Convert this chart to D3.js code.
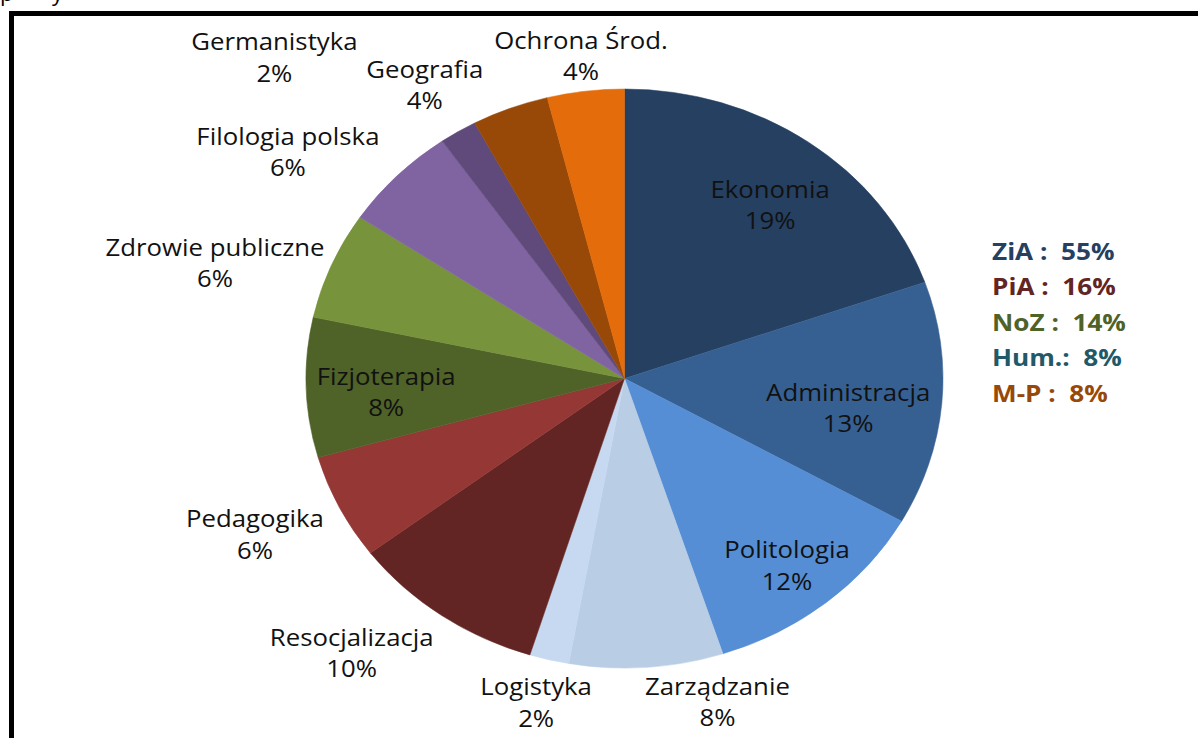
<!DOCTYPE html>
<html>
<head>
<meta charset="utf-8">
<script src="https://cdn.jsdelivr.net/npm/d3@7"></script>
<style>
  html, body { margin: 0; padding: 0; background: #fff; }
  svg { display: block; }
</style>
</head>
<body>
<svg id="chart" width="1198" height="738"></svg>
<script>
// ---- data ----
const categories = ["Ekonomia", "Administracja", "Politologia", "Zarządzanie", "Logistyka",
  "Resocjalizacja", "Pedagogika", "Fizjoterapia", "Zdrowie publiczne", "Filologia polska",
  "Germanistyka", "Geografia", "Ochrona Środ."];
const values = [19.6, 13.6, 11.8, 7.8, 2.0, 9.9, 5.9, 7.8, 6.0, 5.9, 1.9, 3.9, 3.9];
const pctLabels = ["19%", "13%", "12%", "8%", "2%", "10%", "6%", "8%", "6%", "6%", "2%", "4%", "4%"];
const groupNames = ["ZiA :  55%", "PiA :  16%", "NoZ :  14%", "Hum.:  8%", "M-P :  8%"];

// ---- style / layout ----
const colors = ["#254061", "#376092", "#558ED5", "#B9CDE5", "#C6D9F1",
  "#632523", "#953735", "#4F6228", "#77933C", "#8064A2",
  "#604A7B", "#984807", "#E46C0A"];
const groupColors = ["#254061", "#632523", "#4F6228", "#215968", "#984807"];
// label anchor: angle (deg, clockwise from north) and radius as a fraction of the pie radius
const labelAngle = [37.5, 98.5, 141.8, 165.4, 193.9, 222, 245, 266.2, 287.1, 306.4, 315.2, 328.2, 353];
const labelRadius = [0.751, 0.71, 0.825, 1.158, 1.155, 1.28, 1.28, 0.75, 1.345, 1.313, 1.56, 1.19, 1.12];

const cx = 624.5, cy = 378.5, rx = 318.5, ry = 289.5;
const stretch = rx / ry;  // the whole picture is stretched horizontally
const svg = d3.select("#chart");

// frame
svg.append("rect")
  .attr("x", 11.5).attr("y", 13.5)
  .attr("width", 1300).attr("height", 900)
  .attr("fill", "none").attr("stroke", "#000").attr("stroke-width", 5);

// cut-off title descenders at the very top (the reference shows only these fragments)
svg.append("text").attr("x", 0).attr("y", 1)
  .attr("font-family", "Open Sans").attr("font-size", 22).attr("fill", "#000").text("p");
svg.append("text").attr("x", 52).attr("y", 1)
  .attr("font-family", "Open Sans").attr("font-size", 22).attr("fill", "#000").text("y");

const pie = d3.pie().sort(null).value(d => d);
const arcs = pie(values);
const arc = d3.arc().innerRadius(0).outerRadius(ry);

const g = svg.append("g")
  .attr("transform", `translate(${cx},${cy}) scale(${stretch},1)`);
g.selectAll("path")
  .data(arcs)
  .join("path")
  .attr("d", arc)
  .attr("fill", (d, i) => colors[i])
  .attr("stroke", (d, i) => colors[i])
  .attr("stroke-width", 0.5);

// labels
const lab = svg.append("g")
  .attr("font-family", "Open Sans")
  .attr("font-size", 23)
  .attr("fill", "#111")
  .attr("text-anchor", "middle");
categories.forEach((c, i) => {
  const t = labelAngle[i] * Math.PI / 180;
  const x = cx + Math.sin(t) * labelRadius[i] * rx;
  const y = cy - Math.cos(t) * labelRadius[i] * ry;
  const tx = lab.append("text")
    .attr("transform", `translate(${x},${y}) scale(1.12,1)`);
  tx.append("tspan").attr("x", 0).attr("dy", "-0.34em").text(c);
  tx.append("tspan").attr("x", 0).attr("dy", "1.36em").text(pctLabels[i]);
});

// group summary legend
const leg = svg.append("g")
  .attr("font-family", "Open Sans")
  .attr("font-size", 24)
  .attr("font-weight", "bold");
groupNames.forEach((s, i) => {
  leg.append("text")
    .attr("transform", `translate(992,${259.5 + i * 35.5}) scale(1.09,1)`)
    .attr("fill", groupColors[i])
    .attr("xml:space", "preserve")
    .style("white-space", "pre")
    .text(s);
});
</script>
</body>
</html>
